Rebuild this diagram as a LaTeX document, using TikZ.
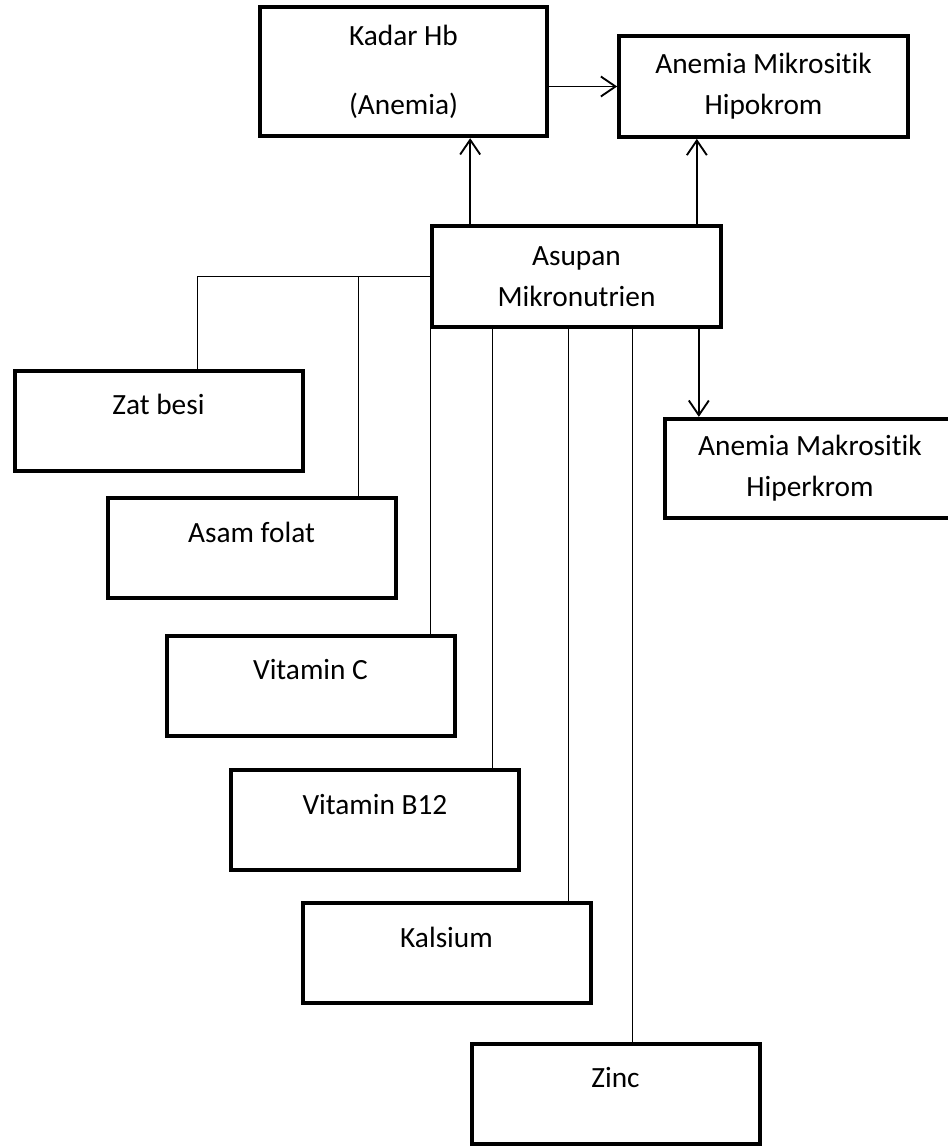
\documentclass[tikz,border=0pt]{standalone}
\usepackage{fontspec}
\setmainfont{Carlito}[Ligatures=NoCommon]
\usetikzlibrary{arrows.meta}
\begin{document}
\begin{tikzpicture}[x=0.75pt,y=-0.75pt,font=\fontsize{22}{30.75}\selectfont,
box/.style={draw,line width=3pt,align=center,minimum width=216.5pt,minimum height=75.5pt,inner sep=0pt},
one/.style={box,minimum width=216pt,minimum height=75pt,text height=15pt,text depth=24pt},
arr/.style={line width=1.4pt,-{Straight Barb[length=11pt,width=15pt,line width=1.4pt]}},
ln/.style={line width=0.9pt}]
\useasboundingbox (0,0) rectangle (947,1146);

\node[box,minimum width=215pt,minimum height=97pt] (kadar) at (403.5,71.5) {Kadar Hb\\[21pt](Anemia)};
\node[box] (mikro) at (763.5,86.5) {Anemia Mikrositik\\Hipokrom};
\node[box] (asupan) at (576.5,276.5) {Asupan\\Mikronutrien};
\node[box,minimum width=217.5pt,minimum height=74.5pt] (makro) at (810,468.5) {Anemia Makrositik\\Hiperkrom};

\node[one] (zat) at (158.5,420.5) {Zat besi};
\node[one] (asam) at (251.5,548) {Asam folat};
\node[one] (vitc) at (310.5,685.5) {Vitamin C};
\node[one] (b12) at (375,820) {Vitamin B12};
\node[one] (kal) at (446.5,953) {Kalsium};
\node[one] (zinc) at (615.5,1093.5) {Zinc};

\draw[arr] (kadar.east |- mikro.west) -- (mikro.west);
\draw[arr] (asupan.north west) ++(40,0) coordinate (u1) -- (u1 |- kadar.south);
\draw[arr] (asupan.north east) ++(-26,0) coordinate (u2) -- (u2 |- mikro.south);
\draw[arr] (asupan.south east) ++(-24,0) coordinate (u3) -- (u3 |- makro.north);

\draw[ln] (asupan.west) -| ([xshift=29pt]zat.north);
\draw[ln] (asupan.west) -| ([xshift=80pt]asam.north);
\foreach \dx/\n in {0/vitc,62/b12,138/kal,202/zinc}
    \draw[ln] (asupan.south west) ++(\dx,0) coordinate (d) -- (d |- \n.north);
\end{tikzpicture}
\end{document}
